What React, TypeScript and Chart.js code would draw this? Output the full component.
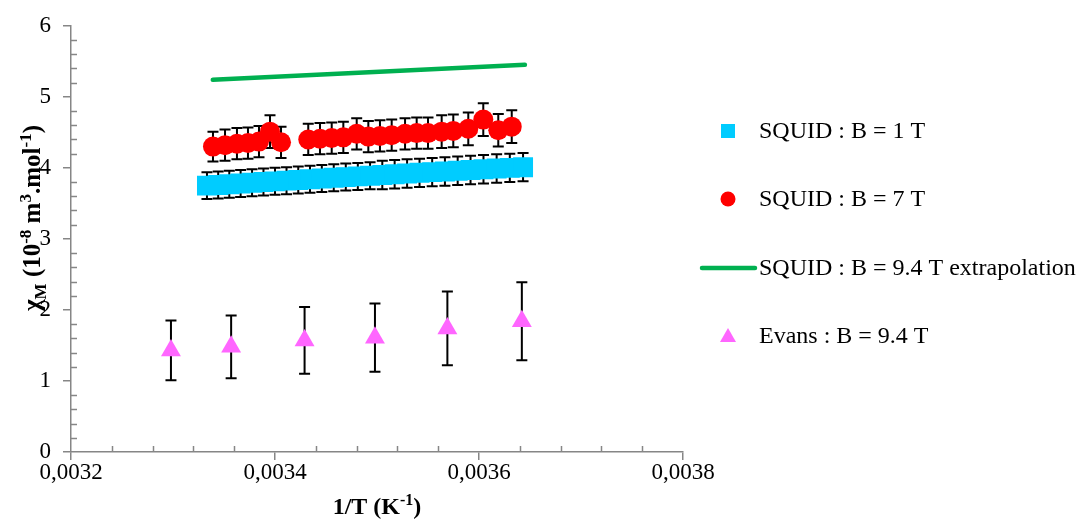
import { useEffect, useRef } from "react";
import { Chart, registerables } from "chart.js";

Chart.register(...registerables);

// ---- data (x = 1/T in K^-1, y = chi_M in 1e-8 m3/mol) ----
const squid1T_x = [
  0.0033333, 0.0033443, 0.0033552, 0.0033663, 0.0033775, 0.0033887, 0.0034,
  0.0034113, 0.0034228, 0.0034343, 0.0034459, 0.0034576, 0.0034694, 0.0034812,
  0.0034932, 0.0035052, 0.0035173, 0.0035295, 0.0035417, 0.0035541, 0.0035666,
  0.0035791, 0.0035917, 0.0036044, 0.0036173, 0.0036302, 0.0036432,
];
const squid1T_y = [
  3.75, 3.76, 3.77, 3.78, 3.79, 3.8, 3.81, 3.82, 3.83, 3.84, 3.85, 3.86, 3.87,
  3.88, 3.89, 3.9, 3.91, 3.92, 3.93, 3.94, 3.95, 3.96, 3.97, 3.98, 3.99, 4.0, 4.01,
];
const squid1T_err = [
  0.19, 0.19, 0.19, 0.19, 0.19, 0.19, 0.19, 0.19, 0.19, 0.19, 0.19, 0.19, 0.19,
  0.19, 0.19, 0.2, 0.2, 0.2, 0.2, 0.2, 0.2, 0.2, 0.2, 0.2, 0.2, 0.2, 0.2,
];

const squid7T_x = [
  0.0033392, 0.003351, 0.0033627, 0.0033735, 0.0033843, 0.0033951, 0.0034059,
  0.0034326, 0.0034441, 0.0034556, 0.003467, 0.0034801, 0.0034915, 0.0035029,
  0.0035144, 0.0035275, 0.0035389, 0.00355, 0.0035634, 0.0035748, 0.0035895,
  0.0036042, 0.0036189, 0.0036321,
];
const squid7T_y = [
  4.3, 4.32, 4.34, 4.35, 4.37, 4.51, 4.36, 4.4, 4.41, 4.42, 4.43, 4.48, 4.44,
  4.45, 4.46, 4.48, 4.49, 4.49, 4.51, 4.52, 4.55, 4.68, 4.53, 4.58,
];
const squid7T_err = [
  0.21, 0.22, 0.22, 0.22, 0.22, 0.23, 0.22, 0.22, 0.22, 0.22, 0.22, 0.22, 0.22,
  0.22, 0.22, 0.22, 0.22, 0.22, 0.23, 0.23, 0.23, 0.23, 0.23, 0.23,
];

const extrap_x = [0.003339, 0.003645];
const extrap_y = [5.24, 5.45];

const evans_x = [0.003298, 0.003357, 0.003429, 0.003498, 0.003569, 0.003642];
const evans_y = [1.43, 1.48, 1.57, 1.61, 1.74, 1.84];
const evans_err = [0.42, 0.44, 0.47, 0.48, 0.52, 0.55];

const seriesLabels = [
  "SQUID : B = 1 T",
  "SQUID : B = 7 T",
  "SQUID : B = 9.4 T extrapolation",
  "Evans : B = 9.4 T",
];
const seriesColors = ["#00CCFF", "#FF0000", "#00B050", "#FF66FF"];

const xMin = 0.0032;
const xMax = 0.0038;
const xStep = 0.0002;
const xMinorStep = 0.00004;
const yMin = 0;
const yMax = 6;
const yStep = 1;
const yMinorStep = 0.2;

const SERIF = "'Liberation Serif', 'Times New Roman', serif";
const AXIS_GRAY = "#868686";

type Part = { t: string; s?: "sup" | "sub" };

function drawRich(ctx: CanvasRenderingContext2D, parts: Part[], size: number) {
  const small = Math.round(size * 0.66);
  const widths = parts.map((p) => {
    ctx.font = `bold ${p.s ? small : size}px ${SERIF}`;
    return ctx.measureText(p.t).width;
  });
  const total = widths.reduce((a, b) => a + b, 0);
  let x = -total / 2;
  ctx.textBaseline = "alphabetic";
  ctx.textAlign = "left";
  parts.forEach((p, i) => {
    ctx.font = `bold ${p.s ? small : size}px ${SERIF}`;
    const dy = p.s === "sup" ? -size * 0.36 : p.s === "sub" ? size * 0.22 : 0;
    ctx.fillText(p.t, x, dy);
    x += widths[i];
  });
}

const errorBarPlugin = {
  id: "errorBars",
  beforeDatasetsDraw(chart: any) {
    const ctx = chart.ctx;
    const xs = chart.scales.x;
    const ys = chart.scales.y;
    ctx.save();
    ctx.strokeStyle = "#000";
    ctx.lineWidth = 2;
    chart.data.datasets.forEach((ds: any) => {
      if (!ds.errors) return;
      ds.data.forEach((pt: any, i: number) => {
        const e = ds.errors[i];
        const px = xs.getPixelForValue(pt.x);
        const top = ys.getPixelForValue(pt.y + e);
        const bot = ys.getPixelForValue(pt.y - e);
        ctx.beginPath();
        ctx.moveTo(px, top);
        ctx.lineTo(px, bot);
        ctx.moveTo(px - 5.5, top);
        ctx.lineTo(px + 5.5, top);
        ctx.moveTo(px - 5.5, bot);
        ctx.lineTo(px + 5.5, bot);
        ctx.stroke();
      });
    });
    ctx.restore();
  },
};

const axesPlugin = {
  id: "axesDecor",
  afterDraw(chart: any) {
    const ctx = chart.ctx;
    const xs = chart.scales.x;
    const ys = chart.scales.y;
    const area = chart.chartArea;
    ctx.save();
    ctx.strokeStyle = AXIS_GRAY;
    ctx.lineWidth = 1.5;
    ctx.beginPath();
    // minor y ticks (inward)
    for (let v = yMin + yMinorStep; v < yMax - 1e-9; v += yMinorStep) {
      if (Math.abs(v - Math.round(v / yStep) * yStep) < 1e-9) continue;
      const py = Math.round(ys.getPixelForValue(v)) + 0.5;
      ctx.moveTo(area.left, py);
      ctx.lineTo(area.left + 6, py);
    }
    // minor x ticks (inward)
    for (let v = xMin + xMinorStep; v < xMax - 1e-12; v += xMinorStep) {
      const r = (v - xMin) / xStep;
      if (Math.abs(r - Math.round(r)) < 1e-6) continue;
      const px = Math.round(xs.getPixelForValue(v)) + 0.5;
      ctx.moveTo(px, area.bottom);
      ctx.lineTo(px, area.bottom - 6);
    }
    ctx.stroke();
    ctx.restore();

    // axis titles
    ctx.save();
    ctx.fillStyle = "#000";
    ctx.translate((area.left + area.right) / 2, 514);
    drawRich(ctx, [{ t: "1/T (K" }, { t: "-1", s: "sup" }, { t: ")" }], 24);
    ctx.restore();

    ctx.save();
    ctx.fillStyle = "#000";
    ctx.translate(40, 218);
    ctx.rotate(-Math.PI / 2);
    drawRich(
      ctx,
      [
        { t: "χ" },
        { t: "M", s: "sub" },
        { t: " (10" },
        { t: "-8", s: "sup" },
        { t: " m" },
        { t: "3", s: "sup" },
        { t: ".mol" },
        { t: "-1", s: "sup" },
        { t: ")" },
      ],
      25
    );
    ctx.restore();

    // legend
    const legendY = [131, 199, 268, 336];
    const mx = 728;
    ctx.save();
    seriesLabels.forEach((label, i) => {
      const y = legendY[i];
      ctx.fillStyle = seriesColors[i];
      ctx.strokeStyle = seriesColors[i];
      if (i === 0) {
        ctx.fillRect(mx - 7, y - 7, 14, 14);
      } else if (i === 1) {
        ctx.beginPath();
        ctx.arc(mx, y, 7.5, 0, Math.PI * 2);
        ctx.fill();
      } else if (i === 2) {
        ctx.lineWidth = 4.5;
        ctx.lineCap = "round";
        ctx.beginPath();
        ctx.moveTo(702, y);
        ctx.lineTo(755, y);
        ctx.stroke();
      } else {
        ctx.beginPath();
        ctx.moveTo(mx, y - 8);
        ctx.lineTo(mx + 8, y + 6);
        ctx.lineTo(mx - 8, y + 6);
        ctx.closePath();
        ctx.fill();
      }
      ctx.fillStyle = "#000";
      ctx.font = `24px ${SERIF}`;
      ctx.textAlign = "left";
      ctx.textBaseline = "middle";
      ctx.fillText(label, 759, y + 1);
    });
    ctx.restore();
  },
};

function toPoints(xs: number[], ys: number[]) {
  return xs.map((x, i) => ({ x, y: ys[i] }));
}

export default function App() {
  const ref = useRef<HTMLCanvasElement | null>(null);

  useEffect(() => {
    document.body.style.margin = "0";
    const canvas = ref.current;
    if (!canvas) return;
    const chart = new Chart(canvas, {
      type: "scatter",
      data: {
        datasets: [
          {
            label: seriesLabels[0],
            data: toPoints(squid1T_x, squid1T_y),
            errors: squid1T_err,
            pointStyle: "rect",
            pointRadius: 14.1,
            pointBackgroundColor: seriesColors[0],
            pointBorderWidth: 0,
            borderColor: seriesColors[0],
            showLine: false,
          } as any,
          {
            label: seriesLabels[1],
            data: toPoints(squid7T_x, squid7T_y),
            errors: squid7T_err,
            pointStyle: "circle",
            pointRadius: 10,
            pointBackgroundColor: seriesColors[1],
            pointBorderWidth: 0,
            borderColor: seriesColors[1],
            showLine: false,
          } as any,
          {
            label: seriesLabels[2],
            type: "line",
            data: toPoints(extrap_x, extrap_y),
            borderColor: seriesColors[2],
            borderWidth: 4.5,
            borderCapStyle: "round",
            pointRadius: 0,
            fill: false,
          } as any,
          {
            label: seriesLabels[3],
            data: toPoints(evans_x, evans_y),
            errors: evans_err,
            pointStyle: "triangle",
            pointRadius: 11.5,
            pointBackgroundColor: seriesColors[3],
            pointBorderWidth: 0,
            borderColor: seriesColors[3],
            showLine: false,
          } as any,
        ],
      },
      options: {
        responsive: false,
        animation: false,
        events: [],
        layout: { padding: { left: 0, top: 25, right: 395, bottom: 0 } },
        plugins: {
          legend: { display: false },
          tooltip: { enabled: false },
        },
        scales: {
          x: {
            type: "linear",
            min: xMin,
            max: xMax,
            afterFit: (s: any) => {
              s.height = 71;
            },
            afterBuildTicks: (s: any) => {
              const t = [];
              for (let i = 0; i <= Math.round((xMax - xMin) / xStep); i++) {
                t.push({ value: xMin + i * xStep });
              }
              s.ticks = t;
            },
            ticks: {
              font: { family: SERIF, size: 23 },
              color: "#000",
              padding: -1,
              maxRotation: 0,
              callback: (v: any) => Number(v).toFixed(4).replace(".", ","),
            },
            grid: {
              drawOnChartArea: false,
              drawTicks: true,
              tickLength: 8,
              color: AXIS_GRAY,
              lineWidth: 1.5,
            },
            border: { display: true, color: AXIS_GRAY, width: 1.5 },
          },
          y: {
            type: "linear",
            min: yMin,
            max: yMax,
            afterFit: (s: any) => {
              s.width = 71;
            },
            ticks: {
              stepSize: yStep,
              font: { family: SERIF, size: 23 },
              color: "#000",
              padding: 12,
            },
            grid: {
              drawOnChartArea: false,
              drawTicks: true,
              tickLength: 8,
              color: AXIS_GRAY,
              lineWidth: 1.5,
            },
            border: { display: true, color: AXIS_GRAY, width: 1.5 },
          },
        },
      },
      plugins: [errorBarPlugin, axesPlugin],
    } as any);
    return () => chart.destroy();
  }, []);

  return (
    <div style={{ width: 1078, height: 523, background: "#fff" }}>
      <canvas ref={ref} width={1078} height={523} style={{ display: "block" }} />
    </div>
  );
}
